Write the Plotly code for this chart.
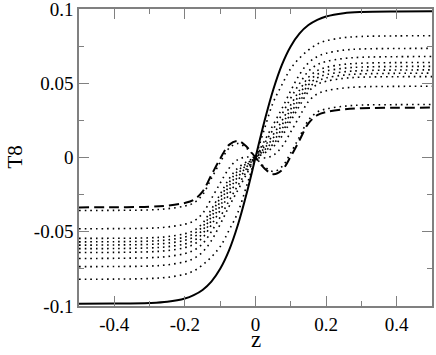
import plotly.graph_objects as go

z = [-0.5, -0.4, -0.3, -0.25, -0.2, -0.175, -0.15, -0.125, -0.1, -0.075, -0.05, -0.025, 0,
     0.025, 0.05, 0.075, 0.1, 0.125, 0.15, 0.175, 0.2, 0.25, 0.3, 0.4, 0.5]

solid = [-0.0985, -0.0984, -0.0980, -0.0972, -0.0950, -0.0927, -0.0892, -0.0836, -0.0750, -0.0626, -0.0455, -0.0241, 0,
         0.0241, 0.0455, 0.0626, 0.0750, 0.0836, 0.0892, 0.0927, 0.0950, 0.0972, 0.0980, 0.0984, 0.0985]

dashed = [-0.0336, -0.0335, -0.0332, -0.0324, -0.0306, -0.0285, -0.0230, -0.0118, -0.0008, 0.0085, 0.0112, 0.0072, 0,
          -0.0072, -0.0112, -0.0085, 0.0008, 0.0118, 0.0230, 0.0285, 0.0306, 0.0324, 0.0332, 0.0335, 0.0336]

dot1 = [-0.0357, -0.0356, -0.0353, -0.0345, -0.0327, -0.0306, -0.0251, -0.0141, -0.0032, 0.0062, 0.0094, 0.0062, 0,
        -0.0062, -0.0094, -0.0062, 0.0032, 0.0141, 0.0251, 0.0306, 0.0327, 0.0345, 0.0353, 0.0356, 0.0357]
dot2 = [-0.0480, -0.0479, -0.0476, -0.0468, -0.0449, -0.0428, -0.0377, -0.0277, -0.0173, -0.0073, -0.0014, 0.0003, 0,
        -0.0003, 0.0014, 0.0073, 0.0173, 0.0277, 0.0377, 0.0428, 0.0449, 0.0468, 0.0476, 0.0479, 0.0480]
dot3 = [-0.0545, -0.0544, -0.0541, -0.0533, -0.0513, -0.0492, -0.0443, -0.0349, -0.0247, -0.0144, -0.0071, -0.0029, 0,
        0.0029, 0.0071, 0.0144, 0.0247, 0.0349, 0.0443, 0.0492, 0.0513, 0.0533, 0.0541, 0.0544, 0.0545]
dot4 = [-0.0568, -0.0567, -0.0563, -0.0555, -0.0536, -0.0514, -0.0466, -0.0374, -0.0273, -0.0169, -0.0090, -0.0040, 0,
        0.0040, 0.0090, 0.0169, 0.0273, 0.0374, 0.0466, 0.0514, 0.0536, 0.0555, 0.0563, 0.0567, 0.0568]
dot5 = [-0.0590, -0.0589, -0.0585, -0.0577, -0.0558, -0.0536, -0.0489, -0.0399, -0.0298, -0.0193, -0.0110, -0.0050, 0,
        0.0050, 0.0110, 0.0193, 0.0298, 0.0399, 0.0489, 0.0536, 0.0558, 0.0577, 0.0585, 0.0589, 0.0590]
dot6 = [-0.0614, -0.0613, -0.0609, -0.0601, -0.0582, -0.0560, -0.0513, -0.0425, -0.0326, -0.0219, -0.0131, -0.0062, 0,
        0.0062, 0.0131, 0.0219, 0.0326, 0.0425, 0.0513, 0.0560, 0.0582, 0.0601, 0.0609, 0.0613, 0.0614]
dot7 = [-0.0640, -0.0639, -0.0635, -0.0627, -0.0607, -0.0585, -0.0540, -0.0454, -0.0355, -0.0248, -0.0153, -0.0074, 0,
        0.0074, 0.0153, 0.0248, 0.0355, 0.0454, 0.0540, 0.0585, 0.0607, 0.0627, 0.0635, 0.0639, 0.0640]
dot8 = [-0.0680, -0.0679, -0.0675, -0.0667, -0.0647, -0.0625, -0.0581, -0.0499, -0.0401, -0.0292, -0.0189, -0.0094, 0,
        0.0094, 0.0189, 0.0292, 0.0401, 0.0499, 0.0581, 0.0625, 0.0647, 0.0667, 0.0675, 0.0679, 0.0680]
dot9 = [-0.0735, -0.0734, -0.0731, -0.0723, -0.0702, -0.0680, -0.0637, -0.0560, -0.0450, -0.0330, -0.0220, -0.0110, 0,
        0.0110, 0.0220, 0.0330, 0.0450, 0.0560, 0.0637, 0.0680, 0.0702, 0.0723, 0.0731, 0.0734, 0.0735]
dot10 = [-0.0820, -0.0819, -0.0815, -0.0807, -0.0786, -0.0764, -0.0724, -0.0670, -0.0600, -0.0490, -0.0370, -0.0190, 0,
         0.0190, 0.0370, 0.0490, 0.0600, 0.0670, 0.0724, 0.0764, 0.0786, 0.0807, 0.0815, 0.0819, 0.0820]

dotted_series = [dot1, dot2, dot3, dot4, dot5, dot6, dot7, dot8, dot9, dot10]

x_tickvals = [-0.4, -0.2, 0, 0.2, 0.4]
x_ticktext = ["-0.4", "-0.2", "0", "0.2", "0.4"]
y_tickvals = [-0.1, -0.05, 0, 0.05, 0.1]
y_ticktext = ["-0.1", "-0.05", "0", "0.05", "0.1"]

FONT = "Liberation Serif, DejaVu Serif, serif"

fig = go.Figure()
for d in dotted_series:
    fig.add_trace(go.Scatter(x=z, y=d, mode="lines", line=dict(color="black", width=1.6, dash="1.6px,4px", shape="spline"),
                             hoverinfo="skip"))
fig.add_trace(go.Scatter(x=z, y=dashed, mode="lines", line=dict(color="black", width=2, dash="10px,5px", shape="spline"),
                         hoverinfo="skip"))
fig.add_trace(go.Scatter(x=z, y=solid, mode="lines", line=dict(color="black", width=2, shape="spline"),
                         hoverinfo="skip"))

axis_common = dict(
    showline=True, linecolor="#808080", linewidth=1.5, mirror="ticks",
    ticks="inside", ticklen=10, tickwidth=1, tickcolor="#808080",
    showgrid=False, zeroline=False, ticklabeloverflow="allow", automargin=False,
    tickfont=dict(family=FONT, size=19, color="black"),
)

fig.update_xaxes(range=[-0.5, 0.5], tickvals=x_tickvals, ticktext=x_ticktext,
                 minor=dict(dtick=0.1, tick0=0, ticks="inside", ticklen=5, tickcolor="#808080"),
                 **axis_common)
fig.update_yaxes(range=[-0.10001, 0.10001], tickvals=y_tickvals, ticktext=y_ticktext,
                 minor=dict(dtick=0.025, tick0=0, ticks="inside", ticklen=5, tickcolor="#808080"),
                 **axis_common)

fig.update_layout(
    width=436, height=355,
    margin=dict(l=79, r=4, t=9, b=49, autoexpand=False),
    paper_bgcolor="white", plot_bgcolor="white",
    showlegend=False,
    font=dict(family=FONT, color="black"),
    annotations=[
        dict(text="z", xref="paper", yref="paper", x=0.5, y=-0.163, showarrow=False,
             font=dict(family=FONT, size=23), xanchor="center", yanchor="bottom"),
        dict(text="T8", xref="paper", yref="paper", x=-0.184, y=0.5, showarrow=False, textangle=-90,
             font=dict(family=FONT, size=21), xanchor="center", yanchor="middle"),
    ],
)

fig.write_html("out.html", config={"displayModeBar": False},
               post_script="document.body.style.margin='0';document.body.style.padding='0';")
